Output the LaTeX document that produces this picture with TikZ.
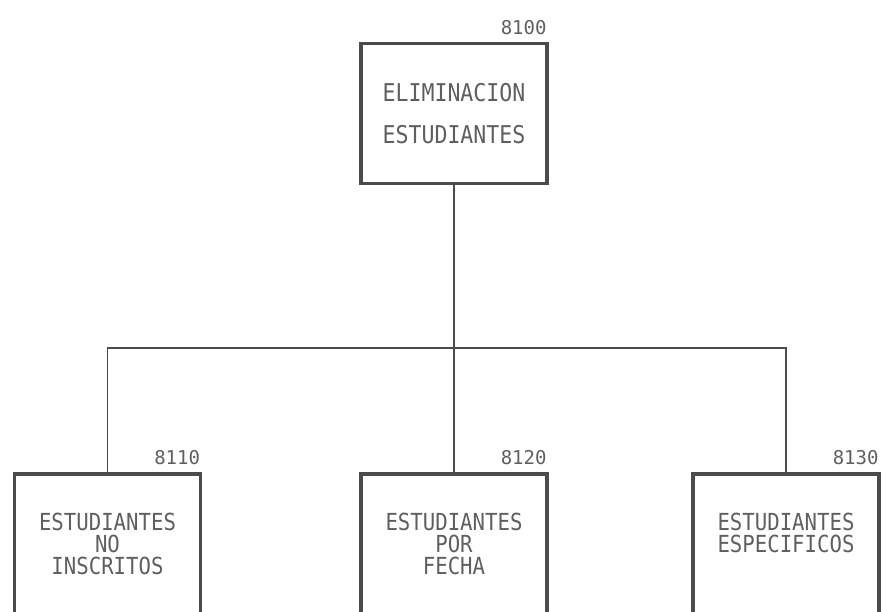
\documentclass[tikz,border=0pt]{standalone}
\usepackage{fontspec}
\usepackage{tikz}
\usetikzlibrary{positioning}
\newfontfamily\dotfont[FakeStretch=0.88]{DejaVu Sans Mono}
\newfontfamily\codefont{DejaVu Sans Mono}
\definecolor{BoxLine}{RGB}{75,75,75}
\definecolor{DotText}{RGB}{95,95,95}

\begin{document}
\begin{tikzpicture}[
    x=1pt, y=-1pt,
    module/.style={rectangle, draw=BoxLine, line width=3.5pt, minimum width=186pt,
        minimum height=140pt, inner sep=0pt, align=center, text=DotText,
        font=\dotfont\fontsize{23.5}{22}\selectfont},
    topmodule/.style={module, font=\dotfont\fontsize{24.5}{42}\selectfont},
    code/.style={font=\codefont\fontsize{19}{19}\selectfont, text=DotText, inner sep=0pt},
    link/.style={draw=BoxLine, line width=1.2pt},
]
\useasboundingbox (0,0) rectangle (886,611);

\node[topmodule] (e100) at (454,113.5) {ELIMINACION\\ESTUDIANTES};
\node[module] (e110) at (107.5,544) {ESTUDIANTES\\NO\\INSCRITOS};
\node[module] (e120) at (454,544) {ESTUDIANTES\\POR\\FECHA};
\node[module] (e130) at (786,544) {ESTUDIANTES\\ESPECIFICOS\\\mbox{}};

\node[code, above left=7pt and 2pt of e100.north east] (c100) {8100};
\node[code, above left=7pt and 2pt of e110.north east] (c110) {8110};
\node[code, above left=7pt and 2pt of e120.north east] (c120) {8120};
\node[code, above left=7pt and 2pt of e130.north east] (c130) {8130};

\coordinate (bus) at (454,348);
\draw[link] (e100.south) -- (bus);
\draw[link] (e110.north) |- (bus);
\draw[link] (e120.north) -- (bus);
\draw[link] (e130.north) |- (bus);
\end{tikzpicture}
\end{document}
